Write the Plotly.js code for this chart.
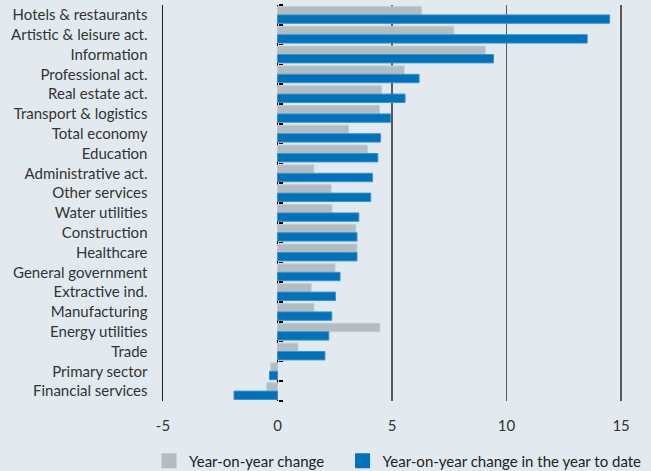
<!DOCTYPE html>
<html>
<head>
<meta charset="utf-8">
<script src="https://cdn.plot.ly/plotly-3.0.1.min.js"></script>
<style>
html,body{margin:0;padding:0;background:#e2eaf0;}
#chart{width:651px;height:471px;}
</style>
</head>
<body>
<div id="chart"></div>
<script>
var categories = ["Hotels & restaurants","Artistic & leisure act.","Information","Professional act.","Real estate act.","Transport & logistics","Total economy","Education","Administrative act.","Other services","Water utilities","Construction","Healthcare","General government","Extractive ind.","Manufacturing","Energy utilities","Trade","Primary sector","Financial services"];
var yoyChange = [6.29, 7.70, 9.07, 5.53, 4.54, 4.45, 3.10, 3.93, 1.59, 2.34, 2.38, 3.42, 3.47, 2.51, 1.47, 1.59, 4.47, 0.89, -0.30, -0.47];
var ytdChange = [14.5, 13.52, 9.43, 6.18, 5.57, 4.93, 4.50, 4.38, 4.15, 4.07, 3.55, 3.47, 3.47, 2.73, 2.53, 2.37, 2.24, 2.07, -0.35, -1.90];
var seriesNames = ["Year-on-year change", "Year-on-year change in the year to date"];
var seriesColors = ['#b3bcc1', '#0072ba'];
var xTicks = [-5, 0, 5, 10, 15];

var xRange = [-5, 16];
var boundaries = [];
for (var i = 0; i <= categories.length; i++) boundaries.push(i - 0.5);

var FONT = 'Lato, "Open Sans", sans-serif';
var TXT = '#333333';

var traces = [
  {type:'bar', orientation:'h', y:categories, x:yoyChange, name:seriesNames[0], showlegend:false,
   marker:{color:seriesColors[0], line:{color:'#c4ccd1', width:1}}},
  {type:'bar', orientation:'h', y:categories, x:ytdChange, name:seriesNames[1], showlegend:false,
   marker:{color:seriesColors[1], line:{color:'#3a93d0', width:1}}},
  // legend proxies (no data points)
  {type:'scatter', mode:'markers', x:[null], y:[null], yaxis:'y2', name:seriesNames[0], legend:'legend',
   marker:{symbol:'square', size:15, color:seriesColors[0]}},
  {type:'scatter', mode:'markers', x:[null], y:[null], yaxis:'y2', name:seriesNames[1], legend:'legend2',
   marker:{symbol:'square', size:15, color:seriesColors[1]}}
];

var zeroPos = (0 - xRange[0]) / (xRange[1] - xRange[0]);

var legendBase = {orientation:'h', xref:'container', xanchor:'left',
  yref:'container', y:0.021, yanchor:'middle',
  font:{family:FONT, size:15, color:'#222'}, itemwidth:30,
  bgcolor:'rgba(0,0,0,0)'};

var layout = {
  width:651, height:471,
  paper_bgcolor:'#e2eaf0', plot_bgcolor:'#e2eaf0',
  margin:{l:163, r:7, t:5, b:70},
  font:{family:FONT, size:15, color:TXT},
  barmode:'group', bargap:0.15, bargroupgap:0,
  showlegend:true,
  legend:Object.assign({}, legendBase, {x:0.2289}),
  legend2:Object.assign({}, legendBase, {x:0.5262}),
  xaxis:{range:xRange, tickvals:xTicks, ticktext:xTicks.map(String),
         showgrid:true, gridcolor:'#5a5a5a', gridwidth:1.5,
         zeroline:true, zerolinecolor:'#000', zerolinewidth:1.5,
         showline:false, ticks:'', ticklabelstandoff:14,
         tickfont:{family:FONT, size:15, color:TXT}, fixedrange:true},
  yaxis:{type:'category', autorange:'reversed', showgrid:false, zeroline:false,
         showline:true, linecolor:'#222', linewidth:1.5, ticks:'',
         ticklabelstandoff:11, tickfont:{family:FONT, size:15, color:TXT}, fixedrange:true},
  yaxis2:{overlaying:'y', anchor:'free', position:zeroPos, side:'right',
          range:[categories.length - 0.5, -0.5], tickvals:boundaries,
          showticklabels:false, ticks:'outside', ticklen:4, tickwidth:1.5,
          tickcolor:'#000', showgrid:false, zeroline:false, showline:false,
          fixedrange:true}
};

Plotly.newPlot('chart', traces, layout, {displayModeBar:false, staticPlot:true});
</script>
</body>
</html>
